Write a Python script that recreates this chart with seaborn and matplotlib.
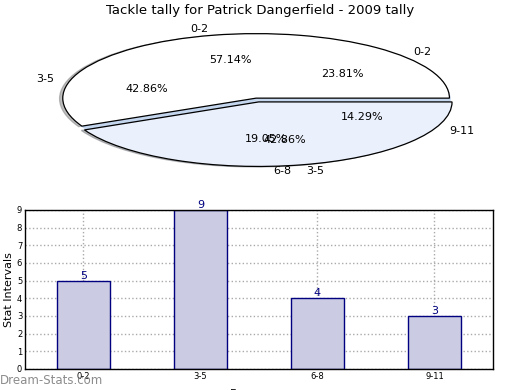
import matplotlib
matplotlib.use("Agg")
import matplotlib.pyplot as plt
import seaborn as sns
import pandas as pd

sns.set_style("white")
plt.rcParams['font.family'] = ['DejaVu Sans']
plt.rcParams['text.color'] = 'black'
plt.rcParams['axes.labelcolor'] = 'black'
plt.rcParams['xtick.color'] = 'black'
plt.rcParams['ytick.color'] = 'black'

title = "Tackle tally for Patrick Dangerfield - 2009 tally"
# outer (top) pie
pie1_labels = ["0-2", "3-5"]
pie1_values = [4, 3]
# second pie (labels visible)
pie2_labels = ["0-2", "3-5", "6-8", "9-11"]
pie2_values = [5, 9, 4, 3]
# bar chart
categories = ["0-2", "3-5", "6-8", "9-11"]
counts = [5, 9, 4, 3]

fig = plt.figure(figsize=(5.2, 3.9), dpi=100)

# ---- pie area ----
axp = fig.add_axes([0.086, 0.5615, 0.818, 0.364])
w2, t2, a2 = axp.pie(pie2_values, labels=pie2_labels, autopct='%.2f%%',
                     colors=['#c4d6ee'] * 4, shadow=False,
                     wedgeprops=dict(edgecolor='none', linewidth=0),
                     textprops=dict(fontsize=8, color='black'))
w1, t1, a1 = axp.pie(pie1_values, labels=pie1_labels, autopct='%.2f%%',
                     colors=['white', '#eaf0fc'], explode=[0.03, 0.03],
                     shadow={'ox': -0.012, 'oy': -0.006, 'shade': 0.5},
                     wedgeprops=dict(edgecolor='black', linewidth=0.9),
                     textprops=dict(fontsize=8, color='black'))
for t in list(t2) + list(a2) + list(t1) + list(a1):
    t.set_zorder(10)
axp.set_aspect('auto')
axp.set_xlim(-1.1, 1.1)
axp.set_ylim(-1.1, 1.1)
fig.text(0.5, 0.972, title, fontsize=9.5, ha='center', va='center')

# ---- bar chart ----
axb = fig.add_axes([0.048, 0.054, 0.9, 0.408])
df = pd.DataFrame({"cat": categories, "count": counts})
sns.barplot(data=df, x="cat", y="count", color="#cbcbe3", saturation=1,
            width=0.45, edgecolor="#000080", linewidth=1, ax=axb, zorder=2)
axb.set_xlim(-0.5, 3.5)
axb.set_ylim(0, 9)
axb.set_yticks(range(10))
axb.grid(True, linestyle=':', color='#aaaaaa', linewidth=1)
axb.set_axisbelow(True)
for s in axb.spines.values():
    s.set_visible(True)
    s.set_color('black')
    s.set_linewidth(1)
axb.tick_params(axis='both', labelsize=6, length=2, direction='in', pad=2)
for i, v in enumerate(counts):
    axb.text(i, v, str(v), ha='center', va='bottom', color='#000080',
             fontsize=8, clip_on=False, zorder=5)
axb.set_ylabel("Stat Intervals", fontsize=8, labelpad=2)
axb.set_xlabel("Frequency", fontsize=8, labelpad=6)

fig.text(0.0, 0.008, "Dream-Stats.com", fontsize=8.5, color='#8c8c8c',
         ha='left', va='bottom')

fig.savefig("out.png", dpi=100)
